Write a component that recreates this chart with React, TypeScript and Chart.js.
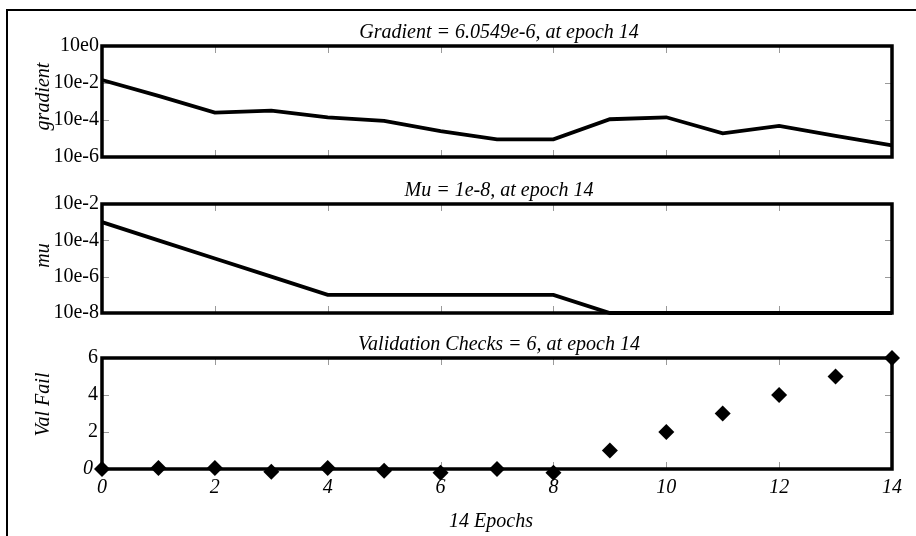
import React, { useEffect, useRef } from 'react';
import { Chart, registerables } from 'chart.js';

Chart.register(...registerables);

// ---------- data ----------
const epochs = [0, 1, 2, 3, 4, 5, 6, 7, 8, 9, 10, 11, 12, 13, 14];
const gradientValues = [1.45e-2, 2.0e-3, 2.5e-4, 3.2e-4, 1.4e-4, 9.0e-5, 2.5e-5, 9.0e-6, 9.0e-6, 1.1e-4, 1.4e-4, 1.9e-5, 4.8e-5, 1.4e-5, 4.2e-6];
const muValues = [1e-3, 1e-4, 1e-5, 1e-6, 1e-7, 1e-7, 1e-7, 1e-7, 1e-7, 1e-8, 1e-8, 1e-8, 1e-8, 1e-8, 1e-8];
const valFailValues = [0, 0.05, 0.05, -0.15, 0.05, -0.1, -0.2, 0, -0.2, 1, 2, 3, 4, 5, 6];

const xTickValues = [0, 2, 4, 6, 8, 10, 12, 14];
const xTickLabels = ['0', '2', '4', '6', '8', '10', '12', '14'];
const gradientTickValues = [1e-6, 1e-4, 1e-2, 1];
const gradientTickLabels = ['10e-6', '10e-4', '10e-2', '10e0'];
const muTickValues = [1e-8, 1e-6, 1e-4, 1e-2];
const muTickLabels = ['10e-8', '10e-6', '10e-4', '10e-2'];
const valTickValues = [0, 2, 4, 6];
const valTickLabels = ['0', '2', '4', '6'];

const gradientTitle = 'Gradient = 6.0549e-6, at epoch 14';
const muTitle = 'Mu = 1e-8, at epoch 14';
const valTitle = 'Validation Checks = 6, at epoch 14';
const gradientYTitle = 'gradient';
const muYTitle = 'mu';
const valYTitle = 'Val Fail';
const xAxisTitle = '14 Epochs';

// ---------- styling ----------
const FONT = '"Liberation Serif", "Times New Roman", serif';
const FS = 20;
const W = 916;
const H = 536;

type PanelSpec = {
  top: number;
  bottom: number;
  title: string;
  yTitle: string;
  yTitleShift: number;
  xTitle?: string;
  showX: boolean;
  yType: 'logarithmic' | 'linear';
  yMin: number;
  yMax: number;
  yTicks: number[];
  yLabels: string[];
  dataset: any;
  chartType: 'line' | 'scatter';
};

function framePlugin(spec: PanelSpec) {
  return {
    id: 'frameDecor',
    beforeDatasetsDraw(chart: any) {
      const { ctx, chartArea: a, scales } = chart;
      ctx.save();
      // inner tick marks
      ctx.strokeStyle = '#9a9a9a';
      ctx.lineWidth = 1;
      const tl = 7;
      xTickValues.forEach((v) => {
        if (v === xTickValues[0] || v === xTickValues[xTickValues.length - 1]) return;
        const px = Math.round(scales.x.getPixelForValue(v)) + 0.5;
        ctx.beginPath();
        ctx.moveTo(px, a.top);
        ctx.lineTo(px, a.top + tl);
        ctx.moveTo(px, a.bottom);
        ctx.lineTo(px, a.bottom - tl);
        ctx.stroke();
      });
      spec.yTicks.forEach((v, i) => {
        if (i === 0 || i === spec.yTicks.length - 1) return;
        const py = Math.round(scales.y.getPixelForValue(v)) + 0.5;
        ctx.beginPath();
        ctx.moveTo(a.left, py);
        ctx.lineTo(a.left + tl, py);
        ctx.moveTo(a.right, py);
        ctx.lineTo(a.right - tl, py);
        ctx.stroke();
      });
      // box
      ctx.strokeStyle = '#000';
      ctx.lineWidth = 3.5;
      ctx.strokeRect(a.left, a.top, a.right - a.left, a.bottom - a.top);
      // title
      ctx.fillStyle = '#000';
      ctx.font = `italic ${FS}px ${FONT}`;
      ctx.textAlign = 'center';
      ctx.textBaseline = 'alphabetic';
      ctx.fillText(spec.title, (a.left + a.right) / 2 + 2, a.top - 8);
      if (spec.xTitle) {
        ctx.fillText(spec.xTitle, (a.left + a.right) / 2 - 6, a.bottom + 58);
      }
      // y title
      ctx.translate(44, (a.top + a.bottom) / 2 - spec.yTitleShift);
      ctx.rotate(-Math.PI / 2);
      ctx.textBaseline = 'middle';
      ctx.fillText(spec.yTitle, 0, 0);
      ctx.restore();
    },
  };
}

function makeConfig(spec: PanelSpec): any {
  const xHeight = spec.showX ? 40 : 0;
  const isVal = spec.chartType === 'scatter';
  return {
    type: spec.chartType,
    data: { datasets: [spec.dataset] },
    options: {
      responsive: false,
      animation: false,
      events: [],
      layout: {
        padding: { left: 0, right: W - 892, top: spec.top, bottom: H - spec.bottom - xHeight },
      },
      plugins: { legend: { display: false }, tooltip: { enabled: false }, title: { display: false } },
      scales: {
        x: {
          type: 'linear',
          min: 0,
          max: 14,
          afterBuildTicks: (s: any) => {
            s.ticks = xTickValues.map((v) => ({ value: v }));
          },
          afterFit: (s: any) => {
            s.height = xHeight;
          },
          grid: { display: false, drawTicks: false },
          border: { display: false },
          ticks: {
            display: spec.showX,
            autoSkip: false,
            maxRotation: 0,
            padding: 7,
            color: '#000',
            font: { family: FONT, size: FS, style: 'italic' },
            callback: (v: number) => xTickLabels[xTickValues.indexOf(v)],
          },
        },
        y: {
          type: spec.yType,
          min: spec.yMin,
          max: spec.yMax,
          afterBuildTicks: (s: any) => {
            s.ticks = spec.yTicks.map((v) => ({ value: v }));
          },
          afterFit: (s: any) => {
            s.width = 102;
          },
          grid: { display: false, drawTicks: false },
          border: { display: false },
          ticks: {
            autoSkip: false,
            padding: isVal ? 4 : 3,
            color: '#000',
            font: (c: any) => ({
              family: FONT,
              size: FS,
              style: isVal && c.tick && c.tick.value === 0 ? 'italic' : 'normal',
            }),
            callback: (v: number) => {
              const label = spec.yLabels[spec.yTicks.indexOf(v)];
              return isVal && v === 0 ? label + '\u2005' : label;
            },
          },
        },
      },
    },
    plugins: [framePlugin(spec)],
  };
}

const panels: PanelSpec[] = [
  {
    top: 46,
    bottom: 157,
    title: gradientTitle,
    yTitle: gradientYTitle,
    yTitleShift: 5,
    showX: false,
    yType: 'logarithmic',
    yMin: 1e-6,
    yMax: 1,
    yTicks: gradientTickValues,
    yLabels: gradientTickLabels,
    chartType: 'line',
    dataset: {
      data: epochs.map((e, i) => ({ x: e, y: gradientValues[i] })),
      borderColor: '#000',
      borderWidth: 3.8,
      pointRadius: 0,
      fill: false,
      tension: 0,
      clip: false,
    },
  },
  {
    top: 204,
    bottom: 313,
    title: muTitle,
    yTitle: muYTitle,
    yTitleShift: 3,
    showX: false,
    yType: 'logarithmic',
    yMin: 1e-8,
    yMax: 1e-2,
    yTicks: muTickValues,
    yLabels: muTickLabels,
    chartType: 'line',
    dataset: {
      data: epochs.map((e, i) => ({ x: e, y: muValues[i] })),
      borderColor: '#000',
      borderWidth: 3.8,
      pointRadius: 0,
      fill: false,
      tension: 0,
      clip: false,
    },
  },
  {
    top: 358,
    bottom: 469,
    title: valTitle,
    yTitle: valYTitle,
    yTitleShift: 9,
    xTitle: xAxisTitle,
    showX: true,
    yType: 'linear',
    yMin: 0,
    yMax: 6,
    yTicks: valTickValues,
    yLabels: valTickLabels,
    chartType: 'scatter',
    dataset: {
      data: epochs.map((e, i) => ({ x: e, y: valFailValues[i] })),
      showLine: false,
      pointStyle: 'rectRot',
      pointRadius: 8,
      backgroundColor: '#000',
      borderColor: '#000',
      borderWidth: 0,
      clip: false,
    },
  },
];

function Panel({ spec }: { spec: PanelSpec }) {
  const ref = useRef<HTMLCanvasElement | null>(null);
  useEffect(() => {
    if (!ref.current) return;
    const chart = new Chart(ref.current, makeConfig(spec));
    return () => chart.destroy();
  }, [spec]);
  return (
    <canvas
      ref={ref}
      width={W}
      height={H}
      style={{ position: 'absolute', left: 0, top: 0, width: W, height: H }}
    />
  );
}

export default function App() {
  return (
    <div
      style={{
        position: 'fixed',
        left: 0,
        top: 0,
        width: W,
        height: H,
        background: '#fff',
        overflow: 'hidden',
      }}
    >
      <div
        style={{
          position: 'absolute',
          left: 6,
          top: 9,
          width: W,
          height: H,
          borderLeft: '2px solid #000',
          borderTop: '2px solid #000',
        }}
      />
      {panels.map((p, i) => (
        <Panel key={i} spec={p} />
      ))}
    </div>
  );
}
